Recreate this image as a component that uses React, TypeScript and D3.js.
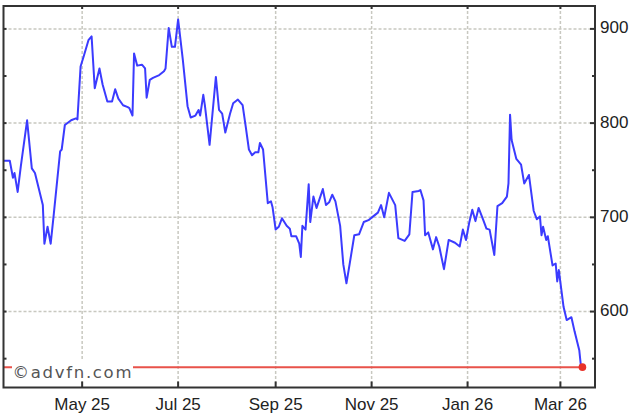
import React from "react";
import * as d3 from "d3";

const dates: string[] = [
  "2025-03-12","2025-03-16","2025-03-18","2025-03-19","2025-03-21","2025-03-23","2025-03-27","2025-03-30",
  "2025-04-01","2025-04-06","2025-04-07","2025-04-09","2025-04-11","2025-04-13","2025-04-17","2025-04-18",
  "2025-04-20","2025-04-24","2025-04-27","2025-04-28","2025-04-30","2025-05-02","2025-05-05","2025-05-07",
  "2025-05-09","2025-05-12","2025-05-14","2025-05-17","2025-05-20","2025-05-22","2025-05-24","2025-05-27",
  "2025-05-30","2025-05-31","2025-06-02","2025-06-03","2025-06-05","2025-06-08","2025-06-10","2025-06-11",
  "2025-06-13","2025-06-15","2025-06-19","2025-06-22","2025-06-23","2025-06-25","2025-06-27","2025-06-29",
  "2025-07-01","2025-07-04","2025-07-07","2025-07-09","2025-07-12","2025-07-14","2025-07-15","2025-07-17",
  "2025-07-18","2025-07-21","2025-07-25","2025-07-27","2025-07-29","2025-07-31","2025-08-03","2025-08-05",
  "2025-08-08","2025-08-11","2025-08-13","2025-08-15","2025-08-17","2025-08-19","2025-08-21","2025-08-22",
  "2025-08-24","2025-08-27","2025-08-29","2025-08-30","2025-09-01","2025-09-03","2025-09-05","2025-09-08",
  "2025-09-10","2025-09-11","2025-09-14","2025-09-16","2025-09-17","2025-09-18","2025-09-20","2025-09-22",
  "2025-09-23","2025-09-25","2025-09-27","2025-10-01","2025-10-03","2025-10-05","2025-10-07","2025-10-09",
  "2025-10-12","2025-10-14","2025-10-16","2025-10-18","2025-10-21","2025-10-24","2025-10-27","2025-10-30",
  "2025-11-02","2025-11-05","2025-11-07","2025-11-09","2025-11-12","2025-11-16","2025-11-18","2025-11-22",
  "2025-11-25","2025-11-27","2025-12-01","2025-12-02","2025-12-04","2025-12-05","2025-12-07","2025-12-10",
  "2025-12-12","2025-12-14","2025-12-17","2025-12-20","2025-12-24","2025-12-27","2025-12-29","2025-12-31",
  "2026-01-02","2026-01-04","2026-01-06","2026-01-08","2026-01-11","2026-01-13","2026-01-15","2026-01-18",
  "2026-01-20","2026-01-23","2026-01-26","2026-01-27","2026-01-28","2026-01-29","2026-02-01","2026-02-04",
  "2026-02-06","2026-02-09","2026-02-12","2026-02-14","2026-02-16","2026-02-17","2026-02-18","2026-02-20",
  "2026-02-21","2026-02-24","2026-02-26","2026-02-27","2026-02-28","2026-03-03","2026-03-05","2026-03-08",
  "2026-03-10","2026-03-13","2026-03-14","2026-03-15",
];

const prices: number[] = [
  760,760,742,747,727,754,803,752,
  747,713,672,690,672,704,770,772,
  798,803,805,804,860,871,888,892,
  837,858,841,823,823,836,826,819,
  817,816,808,874,861,862,858,827,
  846,848,851,855,858,901,881,881,
  910,867,818,806,808,814,808,830,
  819,777,849,814,810,790,810,821,
  825,819,796,772,766,769,769,779,
  772,715,717,711,687,690,699,691,
  688,680,680,672,658,691,687,735,
  695,722,710,730,713,716,724,717,
  691,650,630,650,681,682,695,697,
  701,705,713,700,726,713,678,675,
  682,727,728,729,718,681,684,666,
  679,669,645,676,673,669,687,676,
  694,708,696,710,697,688,687,660,
  712,715,722,736,809,782,762,756,
  736,745,707,698,701,681,690,676,
  680,649,651,632,644,605,591,594,
  579,559,543,541,
];

const xTickDates: string[] = ["2025-05-01","2025-07-01","2025-09-01","2025-11-01","2026-01-01","2026-03-01"];
const xTickLabels: string[] = ["May 25","Jul 25","Sep 25","Nov 25","Jan 26","Mar 26"];
const yMajorTicks: number[] = [600, 700, 800, 900];
const yMinorTicks: number[] = [550, 650, 750, 850];
const lastPrice = 541;
const domainStart = "2025-03-12";
const domainEnd = "2026-03-23";

export default function App() {
  const W = 640, H = 420;
  const left = 3.5, right = 595, top = 6, bottom = 387.5;
  const parse = d3.timeParse("%Y-%m-%d");
  const x = d3.scaleTime().domain([parse(domainStart)!, parse(domainEnd)!]).range([left, right]);
  const y = d3.scaleLinear().domain([519.4, 924.3]).range([bottom, top]);
  const data = dates.map((d, i) => ({ date: parse(d)!, v: prices[i] }));
  const line = d3.line<{ date: Date; v: number }>().x(d => x(d.date)).y(d => y(d.v));
  const last = data[data.length - 1];
  const font = "'Liberation Sans', Arial, sans-serif";
  const gridStyle = { stroke: "#c8c8c0", strokeWidth: 1.5, strokeDasharray: "3,2" };
  const ly = y(lastPrice);

  return (
    <svg width={W} height={H} style={{ position: "absolute", left: 0, top: 0, background: "#fff" }}>
      <rect x={0} y={0} width={W} height={H} fill="#fff" />
      {xTickDates.map((d, i) => (
        <line key={"gx" + i} x1={x(parse(d)!)} x2={x(parse(d)!)} y1={top} y2={bottom} {...gridStyle} />
      ))}
      {yMajorTicks.map((t, i) => (
        <line key={"gy" + i} x1={left} x2={right} y1={y(t)} y2={y(t)} {...gridStyle} />
      ))}
      {/* last price line */}
      <line x1={left} x2={x(last.date)} y1={ly} y2={ly} stroke="#e8524a" strokeWidth={2} />
      <path d={line(data) || ""} fill="none" stroke="#3b3bff" strokeWidth={2} strokeLinejoin="round" />
      <circle cx={x(last.date)} cy={ly} r={3.8} fill="#e8322a" />
      {/* watermark */}
      <rect x={12} y={361} width={121} height={18} fill="#fff" />
      <text x={12.5} y={377.5} fontFamily="'DejaVu Sans', Verdana, sans-serif" fontSize={16.5} fill="#555" textLength={119} lengthAdjust="spacing">
        ©advfn.com
      </text>
      {/* frame */}
      <rect x={left} y={top} width={right - left} height={bottom - top} fill="none" stroke="#333" strokeWidth={2} />
      {/* x ticks */}
      {xTickDates.map((d, i) => {
        const xx = x(parse(d)!);
        return (
          <g key={"xt" + i}>
            <line x1={xx} x2={xx} y1={bottom} y2={bottom - 6} stroke="#333" strokeWidth={2} />
            <line x1={xx} x2={xx} y1={top} y2={top + 3} stroke="#333" strokeWidth={2} />
            <text x={xx} y={410} textAnchor="middle" fontFamily={font} fontSize={17} fill="#222">
              {xTickLabels[i]}
            </text>
          </g>
        );
      })}
      {/* y ticks */}
      {yMajorTicks.map((t, i) => (
        <g key={"yt" + i}>
          <line x1={right} x2={right - 5} y1={y(t)} y2={y(t)} stroke="#333" strokeWidth={2} />
          <line x1={left} x2={left + 3} y1={y(t)} y2={y(t)} stroke="#333" strokeWidth={2} />
          <text x={600} y={y(t) + 4.5} fontFamily={font} fontSize={17} fill="#222">
            {t}
          </text>
        </g>
      ))}
      {yMinorTicks.map((t, i) => (
        <g key={"ym" + i}>
          <line x1={right} x2={right - 3} y1={y(t)} y2={y(t)} stroke="#333" strokeWidth={2} />
          <line x1={left} x2={left + 3} y1={y(t)} y2={y(t)} stroke="#333" strokeWidth={2} />
        </g>
      ))}
    </svg>
  );
}
